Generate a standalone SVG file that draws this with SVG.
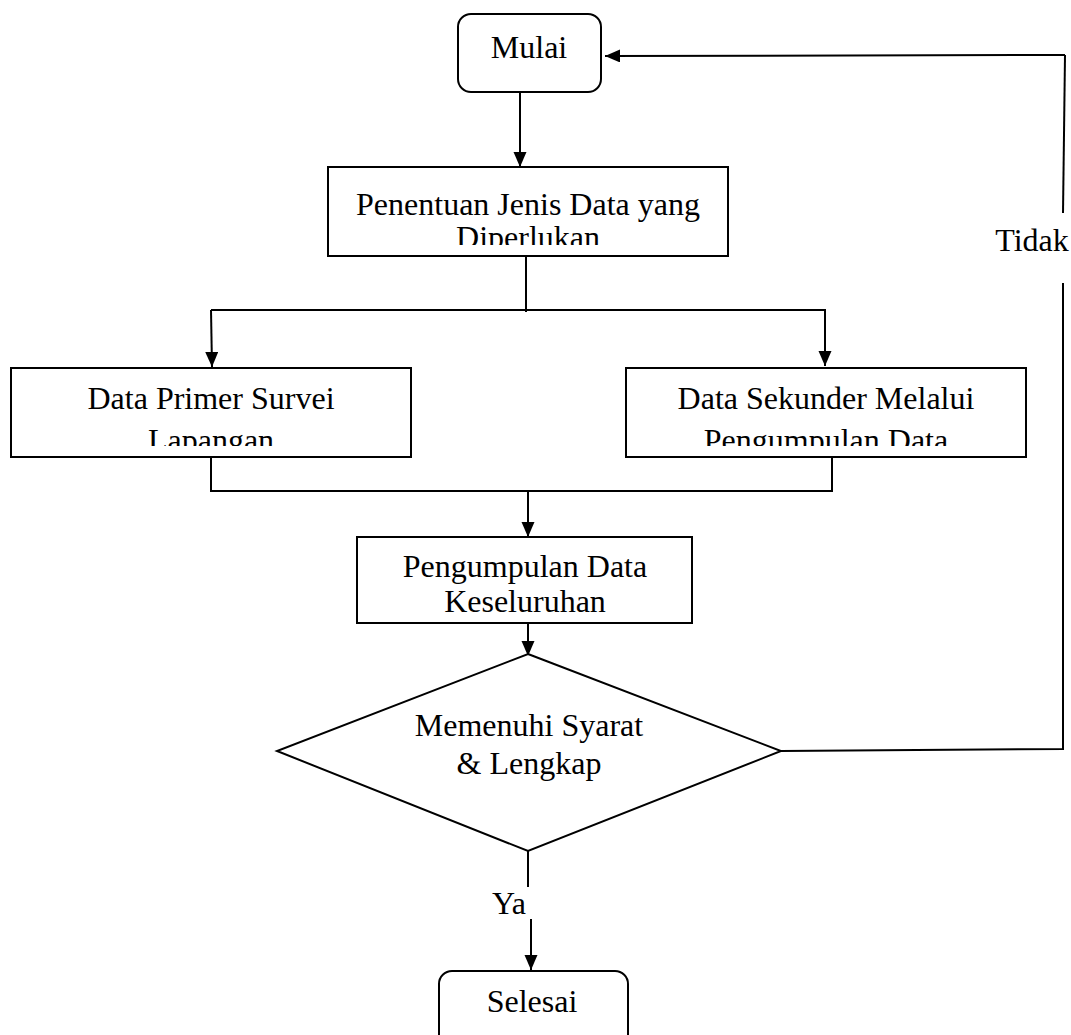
<svg xmlns="http://www.w3.org/2000/svg" width="1071" height="1035" viewBox="0 0 1071 1035">
<style>
.box{fill:#fff;stroke:#000;stroke-width:2}
.ln{fill:none;stroke:#000;stroke-width:2}
.t{font-family:"Liberation Serif","Times New Roman",serif;font-size:32px;fill:#000;text-anchor:middle}
</style>
<defs>
<marker id="ah" markerUnits="userSpaceOnUse" markerWidth="16" markerHeight="14" refX="15" refY="6.5" orient="auto">
<path d="M0,0 L15,6.5 L0,13 z" fill="#000"/>
</marker>
<clipPath id="c1"><rect x="328" y="167" width="400" height="78"/></clipPath>
<clipPath id="c2"><rect x="11" y="368" width="400" height="78"/></clipPath>
<clipPath id="c3"><rect x="626" y="368" width="400" height="78"/></clipPath>
</defs>
<rect width="1071" height="1035" fill="#fff"/>
<g id="connectors">
<line class="ln" x1="520" y1="88" x2="520" y2="167" marker-end="url(#ah)"/>
<line class="ln" x1="526" y1="256" x2="526" y2="312"/>
<line class="ln" x1="211" y1="310" x2="826" y2="310"/>
<line class="ln" x1="211" y1="310" x2="212" y2="367" marker-end="url(#ah)"/>
<line class="ln" x1="825" y1="310" x2="825" y2="366" marker-end="url(#ah)"/>
<polyline class="ln" points="211,457 211,491 832,491 832,457"/>
<line class="ln" x1="528" y1="491" x2="528" y2="537" marker-end="url(#ah)"/>
<line class="ln" x1="528" y1="623" x2="528" y2="656" marker-end="url(#ah)"/>
<polyline class="ln" points="781,751 1063,749 1063,283"/>
<line class="ln" x1="1063" y1="213" x2="1065" y2="55"/>
<line class="ln" x1="1065" y1="55" x2="605" y2="56" marker-end="url(#ah)"/>
<line class="ln" x1="528" y1="851" x2="528" y2="887"/>
<line class="ln" x1="531" y1="919" x2="531" y2="970" marker-end="url(#ah)"/>
<text class="t" x="1032" y="251">Tidak</text>
<text class="t" x="509" y="914">Ya</text>
</g>
<g id="mulai">
<rect class="box" x="458" y="14" width="143" height="78" rx="13"/>
<text class="t" x="529" y="58">Mulai</text>
</g>
<g id="penentuan">
<rect class="box" x="328" y="167" width="400" height="89"/>
<g clip-path="url(#c1)">
<text class="t" x="528" y="215">Penentuan Jenis Data yang</text>
<text class="t" x="528" y="248">Diperlukan</text>
</g>
</g>
<g id="primer">
<rect class="box" x="11" y="368" width="400" height="89"/>
<g clip-path="url(#c2)">
<text class="t" x="211" y="409">Data Primer Survei</text>
<text class="t" x="211" y="451">Lapangan</text>
</g>
</g>
<g id="sekunder">
<rect class="box" x="626" y="368" width="400" height="89"/>
<g clip-path="url(#c3)">
<text class="t" x="826" y="409">Data Sekunder Melalui</text>
<text class="t" x="826" y="451">Pengumpulan Data</text>
</g>
</g>
<g id="pengumpulan">
<rect class="box" x="357" y="537" width="335" height="86"/>
<text class="t" x="525" y="577">Pengumpulan Data</text>
<text class="t" x="525" y="612">Keseluruhan</text>
</g>
<g id="keputusan">
<polygon class="box" points="528,654 781,751 528,851 277,751"/>
<text class="t" x="529" y="736">Memenuhi Syarat</text>
<text class="t" x="529" y="774">&amp; Lengkap</text>
</g>
<g id="selesai">
<rect class="box" x="439" y="971" width="189" height="80" rx="13"/>
<text class="t" x="532" y="1012">Selesai</text>
</g>
</svg>
